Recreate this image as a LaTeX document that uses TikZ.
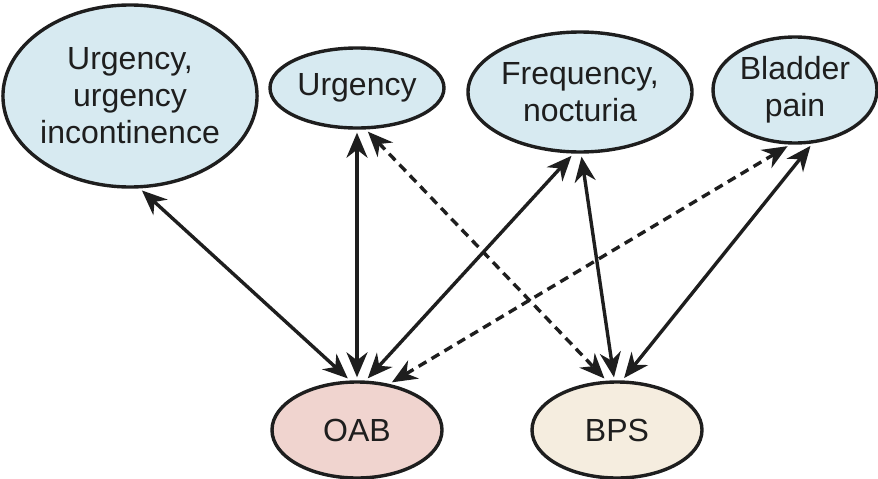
\documentclass[tikz,border=0pt]{standalone}
\usepackage{fontspec}
\setmainfont{Liberation Sans}
\usetikzlibrary{shapes.geometric,arrows.meta}
\definecolor{symfill}{HTML}{D7EAF1}
\definecolor{oabfill}{HTML}{F0D4CF}
\definecolor{bpsfill}{HTML}{F5EDDF}
\definecolor{ink}{HTML}{1E1E1E}
\tikzset{
  bubble/.style={ellipse, draw=ink, line width=3.4pt, inner sep=0pt,
    text=ink, align=center, font=\fontsize{32}{37}\selectfont},
  link/.style={line width=3.4pt, draw=ink, shorten <=3pt, shorten >=3pt,
    {Stealth[length=25pt,width=21pt,inset=8pt]}-{Stealth[length=25pt,width=21pt,inset=8pt]}},
  maybe/.style={link, dash pattern=on 9pt off 6pt}
}
\begin{document}
\begin{tikzpicture}[x=1pt,y=-1pt]
  \useasboundingbox (0,0) rectangle (878,479);
  % symptom bubbles
  \node[bubble, fill=symfill, minimum width=234pt, minimum height=182pt] (uui) at (130,96)
    {Urgency,\\urgency\\incontinence};
  \node[bubble, fill=symfill, minimum width=174pt, minimum height=80pt] (urg) at (357,88) {Urgency};
  \node[bubble, fill=symfill, minimum width=224pt, minimum height=120pt] (freq) at (580,92)
    {Frequency,\\nocturia};
  \node[bubble, fill=symfill, minimum width=164pt, minimum height=106pt] (pain) at (795,90)
    {Bladder\\pain};
  % conditions
  \node[bubble, fill=oabfill, minimum width=170pt, minimum height=96pt] (oab) at (357,430) {OAB};
  \node[bubble, fill=bpsfill, minimum width=170pt, minimum height=96pt] (bps) at (617,430) {BPS};
  % associations
  \draw[link] (uui.-84) -- (oab.98);
  \draw[link] (urg.-90) -- (oab.90);
  \draw[link] (freq.-96) -- (oab.80);
  \draw[maybe] (pain.-95) -- (oab.55);
  \draw[maybe] (urg.-78) -- (bps.102);
  \draw[link] (freq.-89) -- (bps.93);
  \draw[link] (pain.-72) -- (bps.84);
\end{tikzpicture}
\end{document}
